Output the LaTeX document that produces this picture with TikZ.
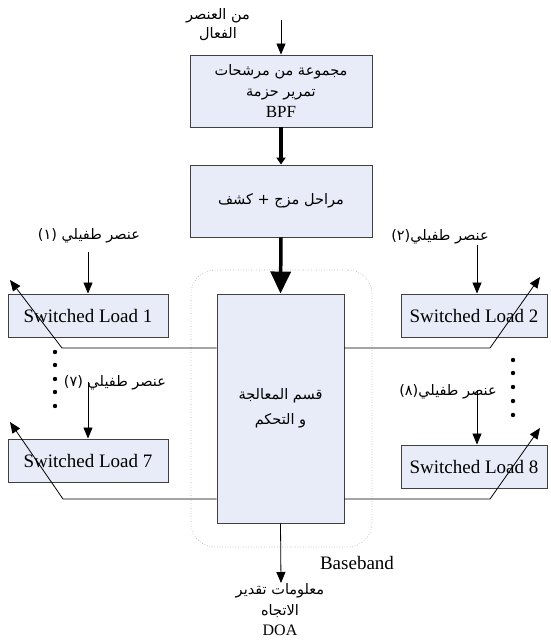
\documentclass[tikz,border=0pt]{standalone}
\usepackage{fontspec}
\setmainfont{Liberation Serif}
\newfontfamily\arabicfont[Script=Arabic]{DejaVu Sans}
\TeXXeTstate=1
\usetikzlibrary{arrows.meta}
\newcommand{\artxt}[1]{{\arabicfont\beginR #1\endR}}
\begin{document}
\begin{tikzpicture}[x=1pt,y=-1pt,
  box/.style={draw=black!75, fill={rgb,255:red,232;green,236;blue,248}, line width=0.9pt, inner sep=0pt, align=center},
  lat/.style={font=\fontsize{19}{22}\selectfont},
  arl/.style={font=\fontsize{14.5}{19}\selectfont, align=center, inner sep=0pt},
  thin/.style={line width=0.8pt, -{Triangle[length=11pt,width=9pt]}},
  thickarrow/.style={line width=3.5pt, -{Triangle[length=7pt,width=9pt]}},
  bigarrow/.style={line width=3.5pt, -{Triangle[length=22pt,width=20pt]}}
]
\useasboundingbox (0,0) rectangle (551,642);
% dotted baseband region
\node[draw=black!35, dotted, rounded corners=24pt, line width=0.6pt, minimum width=181pt, minimum height=277pt, inner sep=0pt] (bb) at (281.5,408.5) {};
% boxes
\node[box, minimum width=182pt, minimum height=72pt, font=\fontsize{14.5}{21}\selectfont] (bpf) at (281,91) {\artxt{مجموعة من مرشحات}\\\artxt{تمرير حزمة}\\{\fontsize{17}{20}\selectfont BPF}};
\node[box, minimum width=182pt, minimum height=72pt, font=\fontsize{14.5}{21}\selectfont] (mix) at (281,201) {\artxt{مراحل مزج + كشف}};
\node[box, minimum width=127pt, minimum height=229pt, font=\fontsize{14.5}{25}\selectfont] (proc) at (280.5,408.5) {\artxt{قسم المعالجة}\\\artxt{و التحكم}};
\node[box, lat, minimum width=160pt, minimum height=43pt] (sl1) at (88,315.5) {Switched Load 1};
\node[box, lat, minimum width=146pt, minimum height=43pt] (sl2) at (474,315.5) {Switched Load 2};
\node[box, lat, minimum width=160pt, minimum height=43pt] (sl7) at (88,460.5) {Switched Load 7};
\node[box, lat, minimum width=146pt, minimum height=43pt] (sl8) at (474,466.5) {Switched Load 8};
% labels
\node[arl] (src) at (218,24.5) {\artxt{من العنصر}\\\artxt{الفعال}};
\node[arl] (p1) at (89,236) {\artxt{عنصر طفيلي (١)}};
\node[arl] (p2) at (440,237) {\artxt{عنصر طفيلي(٢)}};
\node[arl] (p7) at (115,383) {\artxt{عنصر طفيلي (٧)}};
\node[arl] (p8) at (448,392) {\artxt{عنصر طفيلي(٨)}};
\node[font=\fontsize{19}{22}\selectfont, inner sep=0pt] (base) at (357,563) {Baseband};
\node[font=\fontsize{14.5}{20.5}\selectfont, align=center, inner sep=0pt] (out) at (280,610) {\artxt{معلومات تقدير}\\\artxt{الاتجاه}\\{\fontsize{16}{19}\selectfont DOA}};
% coordinates
\coordinate (inTop) at (281,20);
\coordinate (outTip) at (281,583);
\coordinate (s1) at (88,252);
\coordinate (s2) at (477,245);
\coordinate (s7) at (88,382);
\coordinate (s8) at (477,390);
\coordinate (l1b) at (62,348);
\coordinate (l1t) at (10,280);
\coordinate (l2b) at (63,499);
\coordinate (l2t) at (10,422);
\coordinate (r1b) at (490,348);
\coordinate (r1t) at (540,277);
\coordinate (r2b) at (490,499);
\coordinate (r2t) at (540,428);
% connectors
\draw[thin] (inTop) -- (bpf.north);
\draw[thickarrow] (bpf.south) -- (mix.north);
\draw[bigarrow] (mix.south) -- (proc.north);
\draw[thin] (proc.south) -- (outTip);
\draw[thin] (s1) -- (s1 |- sl1.north);
\draw[thin] (s2) -- (s2 |- sl2.north);
\draw[thin] (s7) -- (s7 |- sl7.north);
\draw[thin] (s8) -- (s8 |- sl8.north);
\draw[thin] (proc.west |- l1b) -- (l1b) -- (l1t);
\draw[thin] (proc.west |- l2b) -- (l2b) -- (l2t);
\draw[thin] (proc.east |- r1b) -- (r1b) -- (r1t);
\draw[thin] (proc.east |- r2b) -- (r2b) -- (r2t);
% dots
\foreach \yy in {352,365,379,392,406} \fill (55,\yy) circle (2.2pt);
\foreach \yy in {360,373,387,401,415} \fill (513,\yy) circle (2.2pt);
\end{tikzpicture}
\end{document}
